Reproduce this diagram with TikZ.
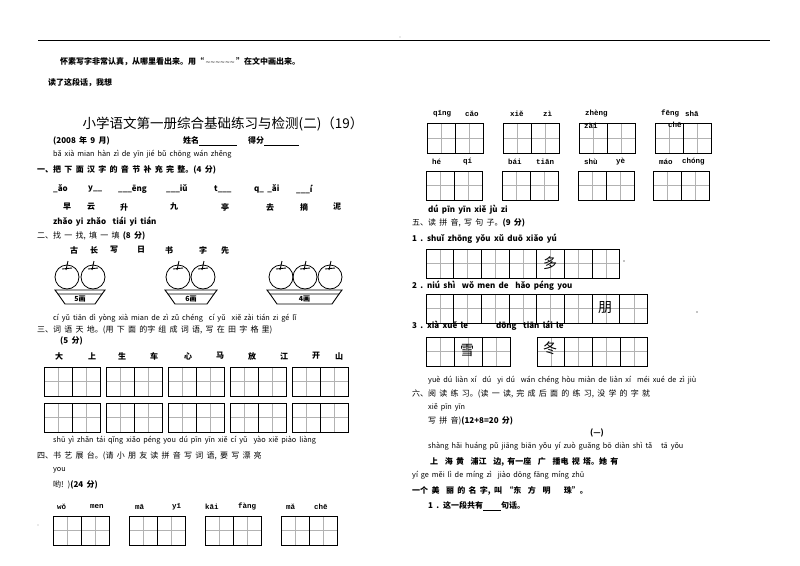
\documentclass[tikz,border=0pt]{standalone}
\usepackage{fontspec}
\setmainfont{Noto Sans CJK SC}[WordSpace=1.8]
\newfontfamily\pyfont{Liberation Mono}
\newcounter{tn}
\newcommand\T[3][]{\stepcounter{tn}\node[txt,#1] (t\thetn) at (#2) {#3};}
\newcommand\tzg[5]{% x y n w h
  \foreach \i in {1,...,#3}{
    \draw[gray!60,line width=0.5pt] ({#1+(\i-0.5)*#4},#2) -- ++(0,#5);}
  \draw[gray!60,line width=0.5pt] (#1,{#2+#5/2}) -- ++({#3*#4},0);
  \foreach \i in {1,...,#3}{
    \draw[line width=0.9pt] ({#1+(\i-1)*#4},#2) rectangle ++(#4,#5);}
}
\newcommand\apple[2]{%
  \draw[line width=0.8pt] (#1,#2) circle (12);
  \draw[line width=0.9pt] (#1-1,#2-7) -- (#1+1,#2-16) (#1-5,#2-8) -- (#1+5,#2-9);
}
\newcommand\basket[4]{% left right y label
  \draw[line width=0.9pt] (#1,#3) -- (#2,#3) -- (#2-3,#3+4) -- (#1+3,#3+4) -- cycle;
  \draw[line width=0.9pt] (#1+3,#3+4) -- (#1+10,#3+14) -- (#2-10,#3+14) -- (#2-3,#3+4);
  \T[font=\fontsize{7}{8}\selectfont\bfseries,anchor=center]{{(#1+#2)/2},#3+9}{#4}
}
\begin{document}
\begin{tikzpicture}[x=1pt,y=-1pt,
  txt/.style={anchor=west,inner sep=0pt,font=\fontsize{8}{9}\selectfont\bfseries},
  py/.style={font=\fontsize{7.3}{8}\selectfont},
  mono/.style={font=\pyfont\fontsize{7.5}{8}\selectfont\bfseries}]
\fill[white] (0,0) rectangle (800,565);
\useasboundingbox (0,0) rectangle (800,565);
\draw[line width=0.6pt] (38,40) -- (770,40);
\fill (400,37) circle (0.4);
\T{60,62}{怀素写字非常认真，从哪里看出来。用“\textcolor{gray}{\,\raisebox{-1pt}{\char`~\char`~\char`~\char`~\char`~\char`~}\,}”在文中画出来。}
\T{48,83}{读了这段话，我想}
\T[anchor=center,font=\fontsize{13.5}{14}\selectfont]{223,124}{小学语文第一册综合基础练习与检测(二)（19）}
\T{53,141}{(2008 年 9 月)}
\T{183,141}{姓名\underline{\hspace{38pt}}}
\T{248,141}{得分\underline{\hspace{35pt}}}
\T[py]{53,154}{bǎ xià mian hàn zì de yīn jié bǔ chōng wán zhěng}
\T{37,170}{一、把 下 面 汉 字 的 音 节 补 充 完 整。(4 分)}
\T{53,189}{\_ǎo}\T{88,189}{y\_\_}\T{118,189}{\_\_\_ēng}\T{166,189}{\_\_\_iǔ}
\T{214,189}{t\_\_\_}\T{254,189}{q\_ \_ǎi}\T{296,189}{\_\_\_í}
\T{63,207}{早}\T{87,207}{云}\T{120,207}{升}\T{170,207}{九}\T{221,207}{亭}\T{266,207}{去}\T{300,207}{摘}\T{333,207}{泥}
\T{53,222}{zhǎo yi zhǎo\ \ tiái yi tián}
\T[font=\fontsize{8}{9}\selectfont]{37,236}{二、找 一 找, 填 一 填 \textbf{(8 分)}}
\T{70,250}{古}\T{90,250}{长}\T{110,250}{写}\T{137,250}{日}\T{165,250}{书}\T{199,250}{字}\T{221,250}{先}
\apple{67}{277}\apple{93}{277}\basket{55}{105}{290}{5画}
\apple{178}{277}\apple{203}{277}\basket{165}{217}{290}{6画}
\apple{281}{277}\apple{305}{277}\apple{330}{277}\basket{267}{342}{290}{4画}
\T[py]{53,318}{cí yǔ tiān dì yòng xià mian de zì zǔ chéng\ \ cí yǔ\ \ xiě zài tián zi gé lǐ}
\T[font=\fontsize{8}{9}\selectfont]{37,330}{三、词 语 天 地。(用 下 面 的字 组 成 词 语, 写 在 田 字 格 里)}
\T{60,341}{(5 分)}
\T{55,356}{大}\T{88,356}{上}\T{118,356}{生}\T{150,356}{车}\T{184,356}{心}\T{216,356}{马}\T{248,356}{放}\T{280,356}{江}\T{312,356}{开}\T{335,356}{山}
\foreach \x in {44,106,168,230,292}{\tzg{\x}{367}{2}{28}{29}\tzg{\x}{403}{2}{28}{29}}
\T[py]{53,440}{shū yì zhǎn tái qǐng xiǎo péng you dú pīn yīn xiě cí yǔ\ \ yào xiě piào liàng}
\T[font=\fontsize{8}{9}\selectfont]{37,456}{四、书 艺 展 台。(请 小 朋 友 读 拼 音 写 词 语, 要 写 漂 亮}
\T[py]{53,470}{you}
\T[font=\fontsize{8}{9}\selectfont]{53,485}{哟! )\textbf{(24 分)}}
\T[mono]{57,507}{wǒ}\T[mono]{90,507}{men}\T[mono]{135,507}{mā}\T[mono]{172,507}{yī}
\T[mono]{205,507}{kāi}\T[mono]{238,507}{fàng}\T[mono]{286,507}{mǎ}\T[mono]{314,507}{chē}
\foreach \x in {53,129,205,281}{\tzg{\x}{516}{2}{28}{29}}
\fill (38,525) circle (0.4);
% right
\T[mono]{433,114}{qīng}\T[mono]{465,114}{cǎo}\T[mono]{510,114}{xiě}\T[mono]{543,114}{zì}
\T[mono]{585,114}{zhèng}\T[mono]{661,114}{fēng}\T[mono]{685,114}{shā}
\foreach \x in {427,503,579,655}{\tzg{\x}{123}{2}{28}{30}}
\T[mono]{584,126}{zài}\T[mono]{668,125}{chē}
\T[mono]{432,162}{hé}\T[mono]{463,162}{qí}\T[mono]{508,162}{bái}\T[mono]{536,162}{tiān}
\T[mono]{584,162}{shù}\T[mono]{616,162}{yè}\T[mono]{659,162}{máo}\T[mono]{682,162}{chóng}
\foreach \x in {426,502,578,653}{\tzg{\x}{171}{2}{28}{29}}
\T{428,210}{dú pīn yīn xiě jù zi}
\T[font=\fontsize{8}{9}\selectfont]{412,223}{五、读 拼 音, 写 句 子。\textbf{(9 分)}}
\T{412,239}{1 . shuǐ zhōng yǒu xǔ duō xiǎo yú}
\tzg{426}{249}{7}{27.7}{29}
\T[anchor=center,font=\fontsize{14}{14}\selectfont]{550,263}{多}
\fill (624,261) circle (0.6);
\T{412,286}{2 . niú shì\ \ wǒ men de\ \ hǎo péng you}
\tzg{426}{294}{8}{27.7}{29}
\T[anchor=center,font=\fontsize{14}{14}\selectfont]{605,308}{朋}
\fill (697,312) circle (0.6);
\T{412,326}{3 . xià xuě le\hspace{28pt}dōng\ \ tiān lái le}
\tzg{426}{337}{3}{28}{29}\tzg{537}{337}{4}{27.7}{29}
\T[anchor=center,font=\fontsize{14}{14}\selectfont]{467,350}{雪}
\T[anchor=center,font=\fontsize{14}{14}\selectfont]{550,348}{冬}
\T[py]{428,380}{yuè dú liàn xí\ \ dú\ \ yi dú\ \ wán chéng hòu miàn de liàn xí\ \ méi xué de zì jiù}
\T[font=\fontsize{8}{9}\selectfont]{412,394}{六、阅 读 练 习。(读 一 读, 完 成 后 面 的 练 习, 没 学 的 字 就}
\T[py]{428,407}{xiě pīn yīn}
\T[font=\fontsize{8}{9}\selectfont]{428,421}{写 拼 音)\textbf{(12+8=20 分)}}
\T{590,433}{(—)}
\T[py]{428,446}{shàng hǎi huáng pǔ jiāng biān yǒu yí zuò guǎng bō diàn shì tǎ\ \ \ tā yǒu}
\T{430,462}{上\ \ 海 黄\ \ 浦江\ \ 边, 有一座\ \ 广\ \ 播电 视 塔。她 有}
\T[py]{412,475}{yí ge měi lì de míng zì\ \ jiào dōng fāng míng zhū}
\T{412,491}{一个 美\ \ 丽 的 名 字, 叫 “东\ \ 方\ \ 明\ \ \ \ 珠”。}
\T{428,506}{1 . 这一段共有\underline{\hspace{18pt}}句话。}
\end{tikzpicture}
\end{document}
